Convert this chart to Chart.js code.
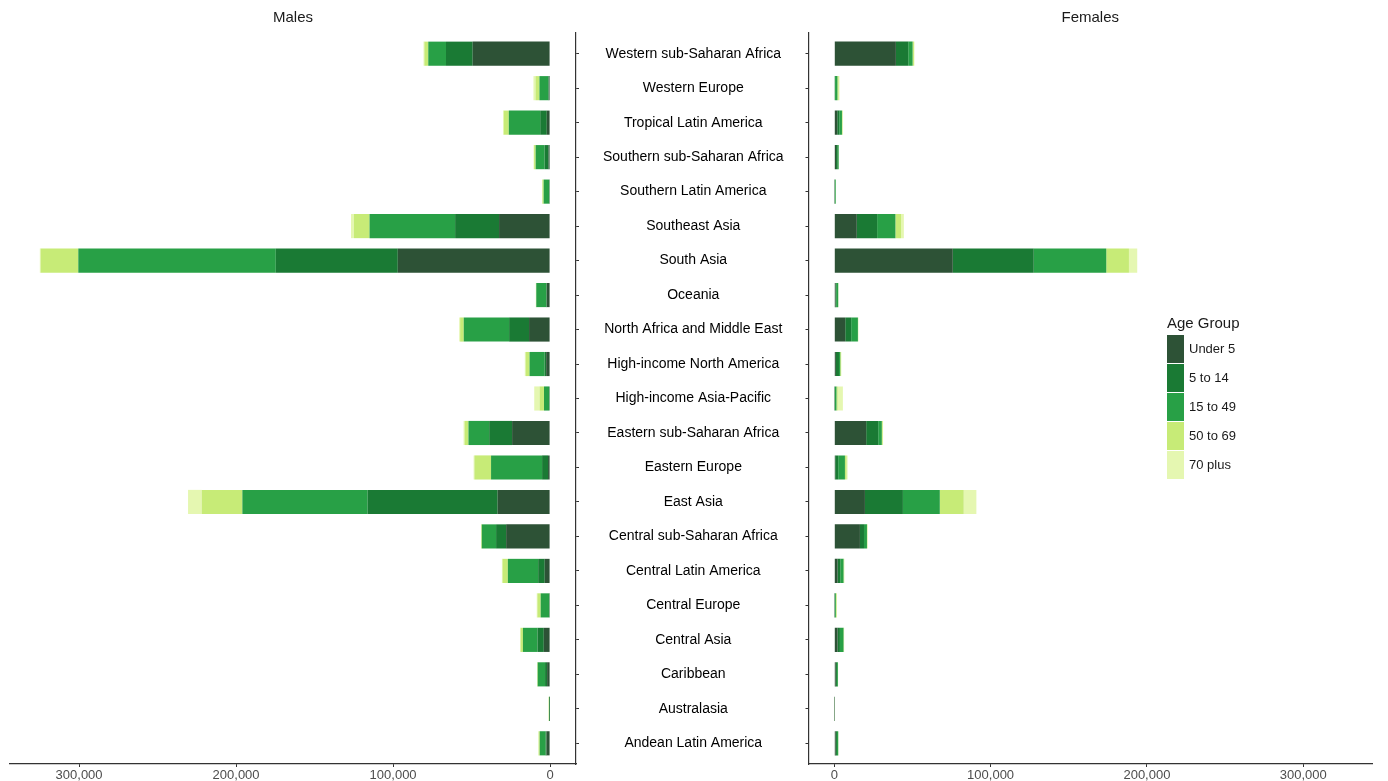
<!DOCTYPE html>
<html>
<head>
<meta charset="utf-8">
<script src="https://cdn.jsdelivr.net/npm/chart.js@4.4.1/dist/chart.umd.min.js"></script>
<style>
  html, body { margin: 0; padding: 0; background: #fff; }
  #wrap { position: relative; width: 1388px; height: 781px; overflow: hidden; font-family: "Liberation Sans", Arial, sans-serif; }
  #males { position: absolute; left: 0; top: 0; }
  #females { position: absolute; left: 800px; top: 0; }
  #legend { position: absolute; left: 1167px; top: 314px; color: #1a1a1a; }
  #legend .ttl { font-size: 15px; height: 20px; line-height: 18px; }
  #legend .row { display: flex; align-items: center; height: 29px; }
  #legend .sw { width: 17px; height: 28px; margin-right: 5px; }
  #legend .lb { font-size: 13px; }
</style>
</head>
<body>
<div id="wrap">
  <canvas id="males" width="810" height="781"></canvas>
  <canvas id="females" width="588" height="781"></canvas>
  <div id="legend"></div>
</div>
<script>
// regions from top to bottom
const regions = [
  'Western sub-Saharan Africa', 'Western Europe', 'Tropical Latin America',
  'Southern sub-Saharan Africa', 'Southern Latin America', 'Southeast Asia',
  'South Asia', 'Oceania', 'North Africa and Middle East',
  'High-income North America', 'High-income Asia-Pacific',
  'Eastern sub-Saharan Africa', 'Eastern Europe', 'East Asia',
  'Central sub-Saharan Africa', 'Central Latin America', 'Central Europe',
  'Central Asia', 'Caribbean', 'Australasia', 'Andean Latin America'
]
const ageGroups = ['Under 5', '5 to 14', '15 to 49', '50 to 69', '70 plus']
const ageColors = ['#2d5236', '#1a7a34', '#28a046', '#c7eb77', '#e5f7b1']
const xTicks = [0, 100000, 200000, 300000]

// males
const maleUnder5 = [49300, 800, 2100, 1000, 400, 32500, 97000, 2100, 13400, 2500, 400, 24200, 1300, 33400, 28000, 3400, 400, 4000, 1900, 100, 2300]
const male5to14 = [17000, 300, 4200, 2500, 300, 28000, 77700, 300, 12700, 1000, 300, 14600, 3800, 82800, 6400, 4200, 300, 4000, 1300, 100, 500]
const male15to49 = [11300, 5700, 20000, 5700, 3400, 54500, 125800, 6400, 28900, 9600, 3200, 13200, 32500, 79800, 9100, 19300, 5300, 9300, 4700, 500, 3800]
const male50to69 = [2500, 2500, 3200, 1000, 800, 10000, 24000, 200, 2300, 2500, 2800, 2500, 10600, 25900, 400, 3400, 2100, 1500, 300, 200, 700]
const male70plus = [500, 1300, 500, 300, 200, 1800, 500, 100, 600, 500, 3400, 600, 500, 8700, 100, 400, 400, 300, 100, 100, 200]

// females
const femUnder5 = [39400, 300, 1900, 1100, 200, 14400, 75800, 800, 7000, 1000, 200, 20400, 600, 19600, 16400, 2100, 200, 2100, 900, 50, 900]
const fem5to14 = [7900, 200, 1300, 1100, 200, 13000, 51800, 400, 3800, 2000, 200, 7700, 1900, 24300, 2600, 1700, 200, 1500, 800, 50, 800]
const fem15to49 = [2800, 1500, 1700, 600, 500, 11700, 46400, 1300, 4300, 800, 1000, 2300, 4300, 23600, 1900, 2100, 600, 2300, 600, 100, 800]
const fem50to69 = [850, 800, 400, 100, 100, 3600, 14500, 100, 200, 500, 800, 600, 1100, 15300, 300, 400, 500, 300, 100, 50, 100]
const fem70plus = [300, 500, 100, 50, 50, 1800, 5300, 50, 100, 200, 3300, 200, 600, 8100, 100, 100, 200, 100, 50, 50, 50]

const maleSeries = [maleUnder5, male5to14, male15to49, male50to69, male70plus]
const femSeries = [femUnder5, fem5to14, fem15to49, fem50to69, fem70plus]

const FONT = '"Liberation Sans", Arial, sans-serif'
const AXIS = '#333333'

function makeDatasets(series) {
  return series.map((vals, k) => ({
    label: ageGroups[k],
    data: vals.map((v, i) => ({ x: v, y: i })),
    backgroundColor: ageColors[k],
    borderWidth: 0,
    stack: 'all',
    barPercentage: 0.7,
    categoryPercentage: 1
  }))
}

function makeChart(id, series, title, left) {
  return new Chart(document.getElementById(id), {
    type: 'bar',
    data: { datasets: makeDatasets(series) },
    options: {
      indexAxis: 'y',
      responsive: false,
      animation: false,
      layout: { padding: left ? { left: 10, right: 0, top: 0, bottom: 0 } : { left: 0, right: 16, top: 0, bottom: 0 } },
      plugins: {
        legend: { display: false },
        tooltip: { enabled: false },
        title: {
          display: true, text: title, fullSize: false, color: '#1a1a1a',
          font: { family: FONT, size: 15, weight: 'normal' },
          padding: { top: 9, bottom: 6 }
        }
      },
      scales: {
        x: {
          type: 'linear', stacked: true, reverse: left,
          min: -16500, max: 344000,
          afterBuildTicks: s => { s.ticks = xTicks.map(v => ({ value: v })) },
          afterFit: s => { s.height = 17 },
          border: { display: true, color: AXIS, width: 1.2 },
          grid: { drawOnChartArea: false, drawTicks: true, tickLength: 3, tickColor: AXIS },
          ticks: {
            color: '#4d4d4d', padding: 1, maxRotation: 0,
            font: { family: FONT, size: 13 },
            callback: v => v.toLocaleString('en-US')
          }
        },
        y: {
          type: 'linear', reverse: true, min: -0.6, max: 20.6, offset: false,
          position: left ? 'right' : 'left',
          afterBuildTicks: s => { s.ticks = regions.map((r, i) => ({ value: i })) },
          afterFit: s => { s.width = left ? 234 : 8.5; s.paddingTop = 0; s.paddingBottom = 0 },
          border: { display: true, color: AXIS, width: 1.2 },
          grid: { offset: false, drawOnChartArea: false, drawTicks: true, tickLength: 3, tickColor: AXIS },
          ticks: {
            display: left, autoSkip: false, crossAlign: 'center', padding: 24,
            color: '#000', font: { family: FONT, size: 14 },
            callback: v => regions[v]
          }
        }
      }
    }
  })
}

makeChart('males', maleSeries, 'Males', true)
makeChart('females', femSeries, 'Females', false)

// legend
const lg = document.getElementById('legend')
let html = '<div class="ttl">Age Group</div>'
ageGroups.forEach((g, k) => {
  html += '<div class="row"><div class="sw" style="background:' + ageColors[k] + '"></div><div class="lb">' + g + '</div></div>'
})
lg.innerHTML = html
</script>
</body>
</html>
